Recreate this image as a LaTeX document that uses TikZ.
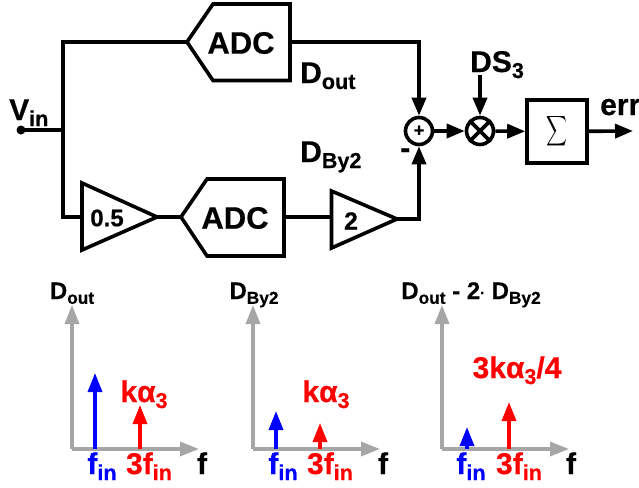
\documentclass[tikz,border=0pt]{standalone}
\usepackage{fontspec}
\setmainfont[BoldFeatures={FakeBold=0.5}]{Liberation Sans}
\usetikzlibrary{arrows.meta}
\newcommand{\lowtxt}[1]{\raisebox{-.2em}{\scalebox{.72}{#1}}}
\tikzset{
	wire/.style={line width=3.6pt},
	sig/.style={wire,-{Triangle[length=18pt,width=14pt]}},
	axisline/.style={line width=3.4pt,color=axisgray,-{Triangle[length=19pt,width=14pt]}},
	tone/.style={line width=3.4pt,-{Triangle[length=19pt,width=14pt]}},
	big/.style={font=\fontsize{30}{30}\bfseries\selectfont,inner sep=0pt,anchor=base west},
	blocktxt/.style={font=\fontsize{31}{31}\bfseries\selectfont,inner sep=0pt},
	small/.style={font=\fontsize{24}{24}\bfseries\selectfont,inner sep=0pt,anchor=base},
	freq/.style={font=\fontsize{30}{30}\bfseries\selectfont,inner sep=0pt,anchor=base},
}
\definecolor{axisgray}{RGB}{166,166,166}
\begin{document}
\begin{tikzpicture}[x=1pt,y=-1pt,line join=miter]
	\useasboundingbox (0,0) rectangle (639,487);
	% INPUT
	\fill (21,130) circle (4.5pt) coordinate (vin);
	\node[big] (vinlabel) at (9,120) {V\lowtxt{in}};
	\coordinate (branch) at (63,130);
	\coordinate (upper) at (63,42);
	\coordinate (lower) at (63,217);

	% UPPER ADC
	\draw[wire] (187,42) coordinate (adcatip) -- (213,4) -- (290,4) -- (290,80.5) -- (213,80.5) -- cycle;
	\coordinate (adcaout) at (290,42);
	\node[blocktxt] (adca) at (241,43) {ADC};

	% LOWER PATH
	\draw[wire] (82,183) coordinate (halftop) -- (157,217) coordinate (halfout) -- (82,250) -- cycle;
	\coordinate (halfin) at (82,217);
	\node[font=\fontsize{24}{24}\bfseries\selectfont,inner sep=0pt] (half) at (107,218) {0.5};
	\draw[wire] (181,217) coordinate (adcbtip) -- (207,179) -- (284,179) -- (284,256) -- (207,256) -- cycle;
	\coordinate (adcbout) at (284,217);
	\node[blocktxt] (adcb) at (235,218) {ADC};
	\draw[wire] (331.5,191) -- (397,219) coordinate (dblout) -- (331.5,248) -- cycle;
	\coordinate (dblin) at (331.5,217);
	\node[font=\fontsize{25}{25}\bfseries\selectfont,inner sep=0pt] (dbl) at (351,221) {2};

	% SUM, MIXER, ACCUMULATOR
	\node[circle,draw,wire,minimum size=27pt,inner sep=0pt,font=\fontsize{18}{18}\bfseries\selectfont] (sum) at (419,131) {+};
	\node[circle,draw,wire,minimum size=27pt,inner sep=0pt] (mix) at (480,131) {};
	\draw[wire] (mix.45) -- (mix.225);
	\draw[wire] (mix.135) -- (mix.315);
	\node[draw,wire,minimum width=60pt,minimum height=63pt,inner sep=0pt] (acc) at (557,131.5) {\scalebox{1.45}[2.1]{$\displaystyle\sum$}};
	\coordinate (errout) at (633,131);
	\coordinate (dsin) at (480,75);
	\coordinate (topcorner) at (419,42);
	\coordinate (botcorner) at (419,219);

	% WIRES
	\draw[wire] (vin) -- (branch);
	\draw[wire] (adcatip) -- (upper) -- (lower) -- (halfin);
	\draw[wire] (halfout) -- (adcbtip);
	\draw[wire] (adcbout) -- (dblin);
	\draw[sig] (adcaout) -- (topcorner) -- (sum.north);
	\draw[sig] (dblout) -- (botcorner) -- (sum.south);
	\draw[sig] (sum) -- (mix);
	\draw[sig] (dsin) -- (mix.north);
	\draw[sig] (mix) -- (acc);
	\draw[sig] (acc) -- (errout);

	% LABELS
	\node[big] (dout) at (300,83) {D\lowtxt{out}};
	\node[big] (dby) at (300,162) {D\lowtxt{By2}};
	\node[big] (ds) at (470,72) {DS\lowtxt{3}};
	\node[big] (err) at (600,115) {err};
	\node[big] (minus) at (400,158) {-};

	% SPECTRA
	\foreach \n/\ox/\bx/\by/\rx/\ry/\fa/\fb/\fc in {
		a/72/95/373/140/405/102/149/202,
		b/253/276/411/320/423/283/330/383,
		c/442/467/427/509/402/471/519/571} {
		\coordinate (ori\n) at (\ox,449);
		\coordinate (yend\n) at (\ox,305);
		\coordinate (xend\n) at (\ox+127,449);
		\draw[axisline] (ori\n) -- (yend\n);
		\draw[axisline] (ori\n) -- (xend\n);
		\draw[tone,blue] (\bx,449) -- (\bx,\by);
		\draw[tone,red] (\rx,449) -- (\rx,\ry);
		\node[freq,blue] (fin\n) at (\fa,474) {f\lowtxt{in}};
		\node[freq,red] (thr\n) at (\fb,474) {3f\lowtxt{in}};
		\node[freq] (f\n) at (\fc,474) {f};
	}
	\node[small] (titlea) at (72,299) {D\lowtxt{out}};
	\node[small] (titleb) at (254,299) {D\lowtxt{By2}};
	\node[small] (titlec) at (471,299) {D\lowtxt{out} - 2\raisebox{.05em}{\scalebox{.6}{·}} D\lowtxt{By2}};
	\node[freq,red] (gaina) at (144,402) {kα\lowtxt{3}};
	\node[freq,red] (gainb) at (326,402) {kα\lowtxt{3}};
	\node[freq,red] (gainc) at (517,378) {3kα\lowtxt{3}/4};
\end{tikzpicture}
\end{document}
